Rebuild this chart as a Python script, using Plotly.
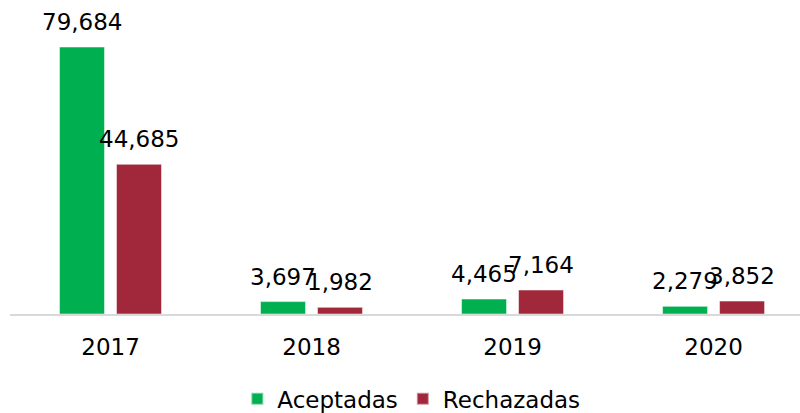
import plotly.graph_objects as go

years = ["2017", "2018", "2019", "2020"]
aceptadas = [79684, 3697, 4465, 2279]
rechazadas = [44685, 1982, 7164, 3852]

green = "#00B050"
red = "#A0283A"
font_family = "DejaVu Sans, sans-serif"
FS = 23

fig = go.Figure()
fig.add_trace(go.Bar(x=years, y=aceptadas, name="Aceptadas",
                     marker=dict(color=green, line=dict(color="rgba(255,255,255,0.5)", width=1))))
fig.add_trace(go.Bar(x=years, y=rechazadas, name="Rechazadas",
                     marker=dict(color=red, line=dict(color="rgba(255,255,255,0.5)", width=1))))

annotations = []
for i in range(len(years)):
    for vals, dx in ((aceptadas, -28.5), (rechazadas, 28.5)):
        annotations.append(dict(x=i, y=vals[i], xref="x", yref="y", text=f"{vals[i]:,}",
                                showarrow=False, xshift=dx, yshift=10, yanchor="bottom",
                                font=dict(size=FS, color="#000000", family=font_family)))

fig.update_layout(
    width=800, height=413,
    margin=dict(l=10, r=0, t=0, b=99, autoexpand=False),
    paper_bgcolor="white", plot_bgcolor="white",
    barmode="group", bargap=0.433, bargroupgap=0.21,
    font=dict(family=font_family, size=FS, color="#000000"),
    showlegend=True,
    legend=dict(orientation="h", x=0.508, xanchor="center", y=-0.27, yanchor="middle",
                font=dict(size=FS), itemsizing="constant"),
    annotations=annotations,
)
fig.update_xaxes(type="category", range=[-0.5, 3.43], showline=True, linecolor="#D9D9D9",
                 linewidth=1.5, ticks="", showgrid=False, tickfont=dict(size=FS),
                 ticklabelstandoff=12, fixedrange=True)
fig.update_yaxes(range=[0, 93710], visible=False, showgrid=False, zeroline=False,
                 fixedrange=True)

fig.write_html("out.html", config={"displayModeBar": False},
               post_script="document.body.style.margin='0';")
